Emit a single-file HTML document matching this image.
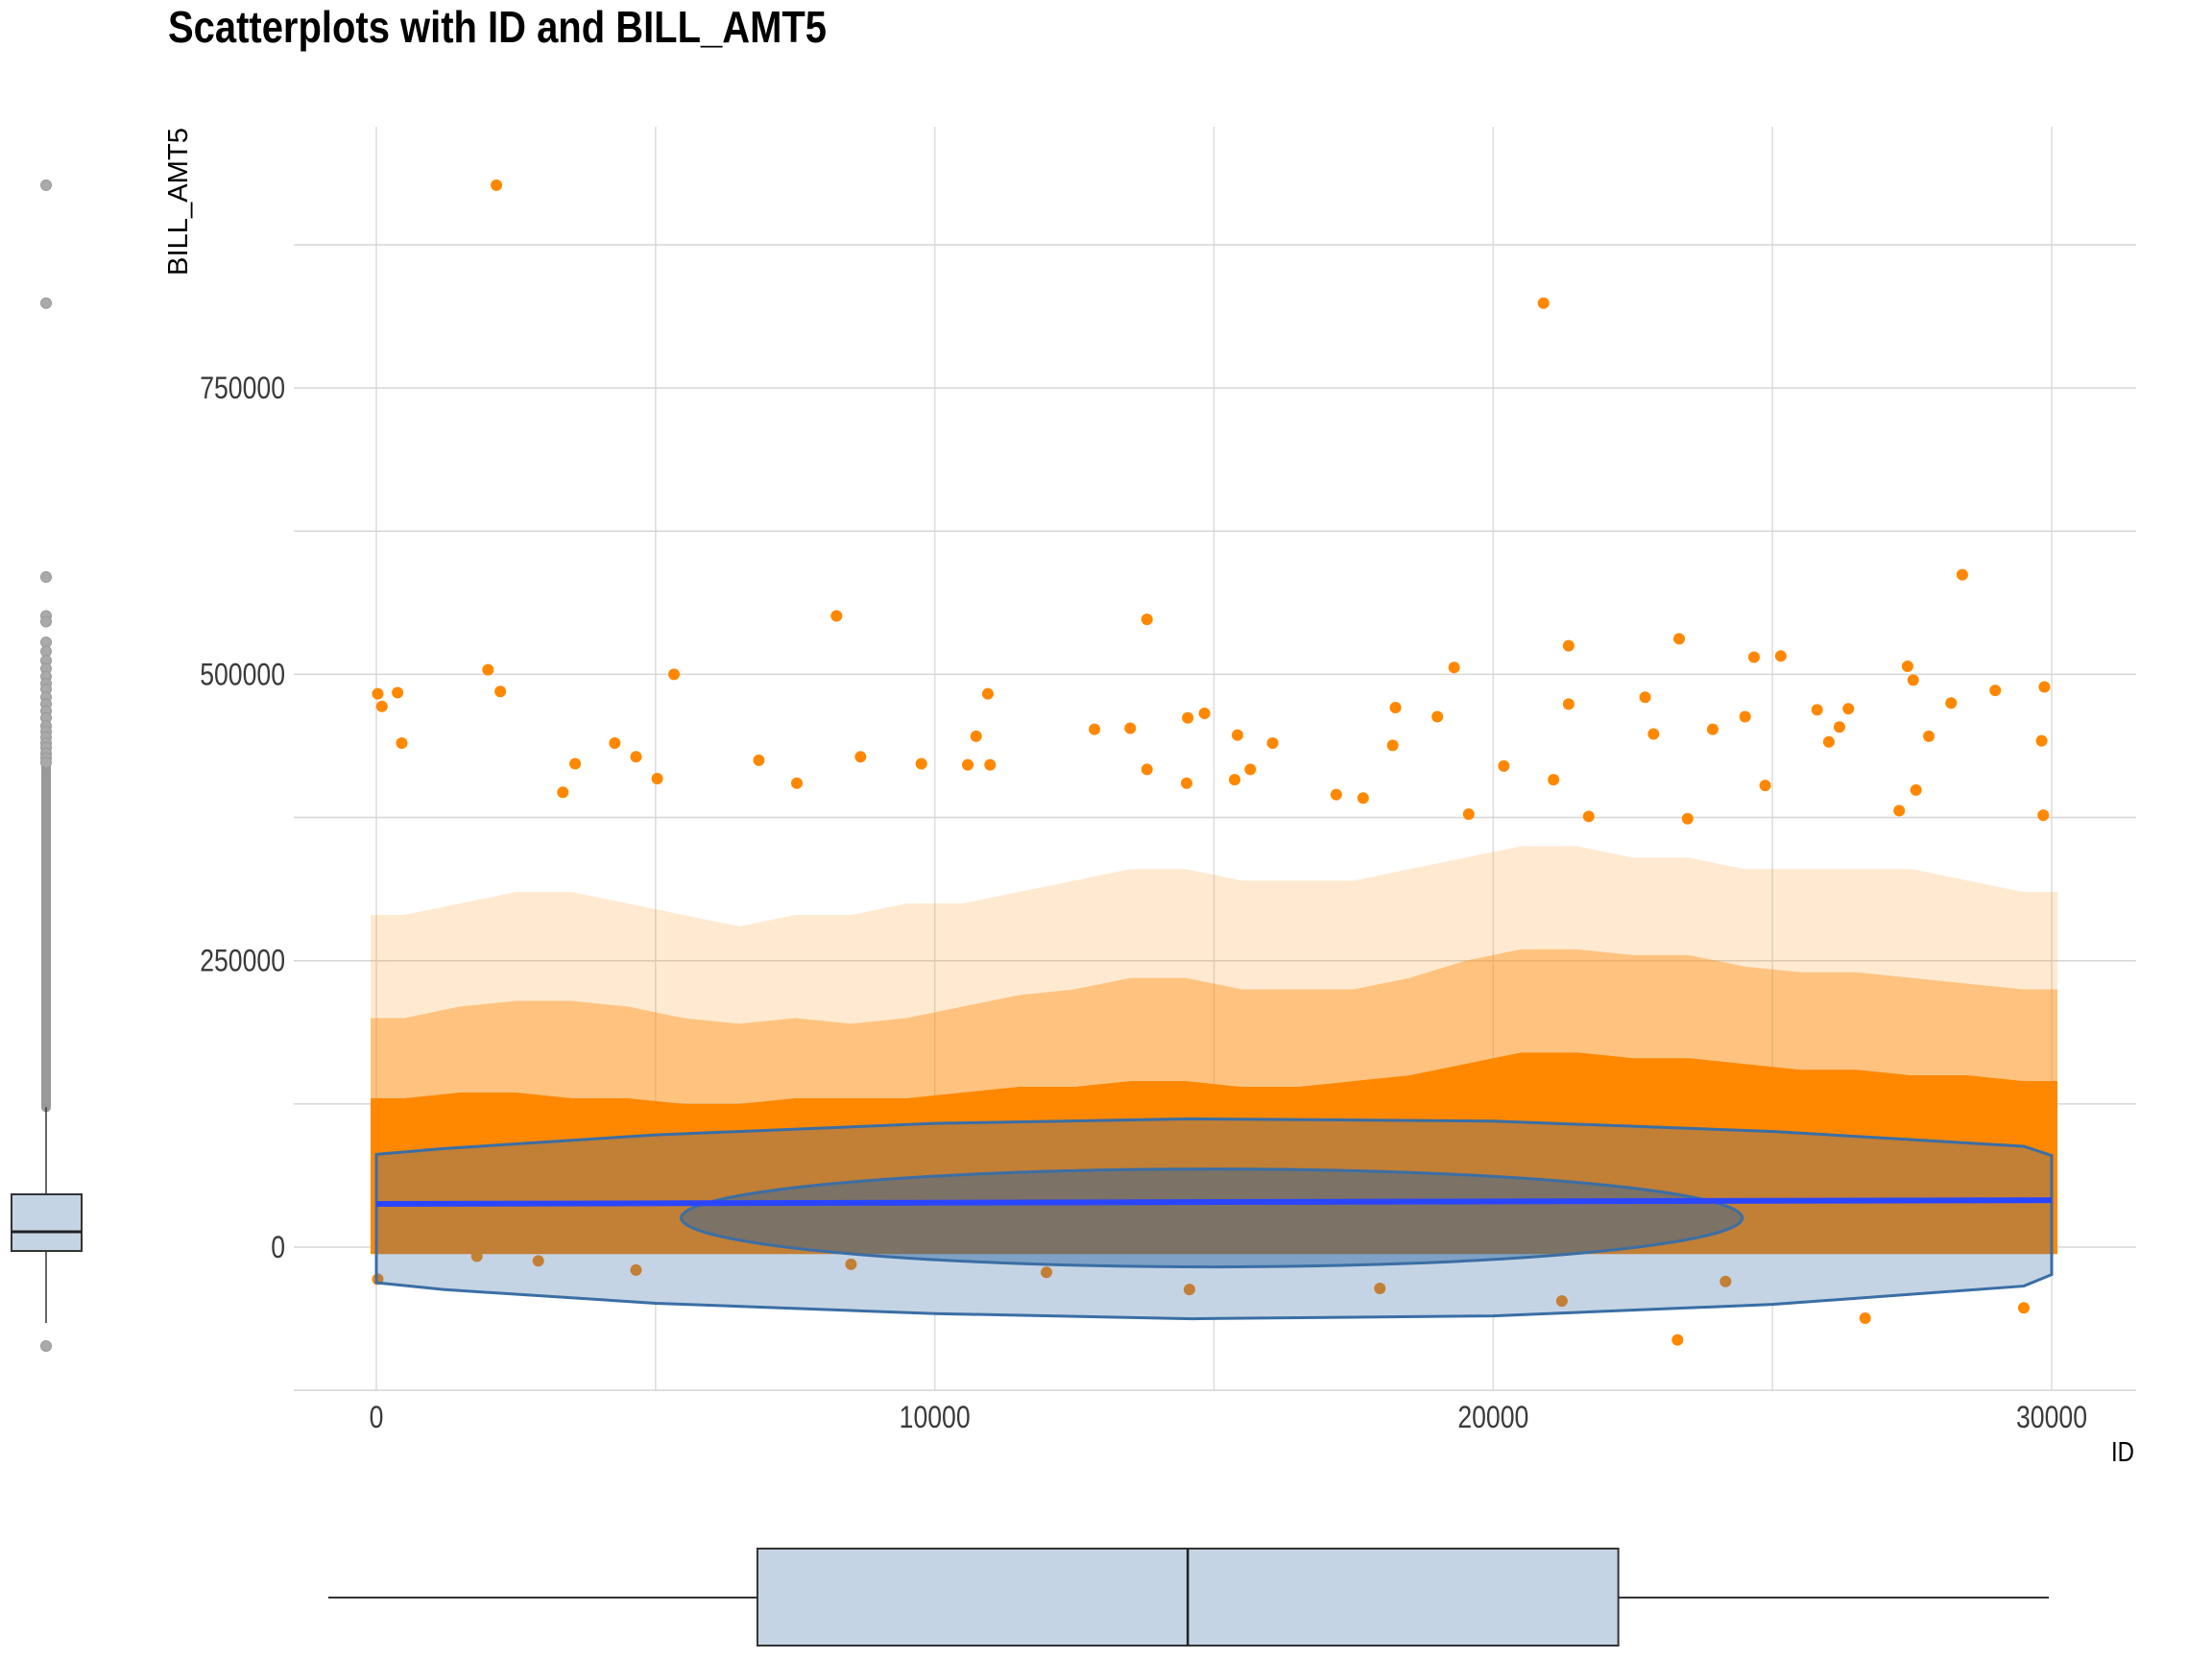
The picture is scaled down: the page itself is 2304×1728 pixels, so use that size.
<!DOCTYPE html>
<html><head><meta charset="utf-8"><style>
html,body{margin:0;padding:0;background:#fff}
svg{display:block}
text{font-family:"Liberation Sans Narrow","Liberation Sans",sans-serif}
</style></head><body>
<svg id="chart" width="2304" height="1728" viewBox="0 0 2304 1728" xmlns="http://www.w3.org/2000/svg">
<text x="175" y="44" font-size="46" font-weight="bold" fill="#000" textLength="686" lengthAdjust="spacingAndGlyphs">Scatterplots with ID and BILL_AMT5</text>
<g id="grid"></g>
<g id="plot"></g>
<g id="axes"></g>
<text transform="translate(195,287) rotate(-90)" font-size="29" fill="#000" textLength="154" lengthAdjust="spacingAndGlyphs" style="font-family:'Liberation Sans',sans-serif">BILL_AMT5</text>
<text x="2223" y="1522" text-anchor="end" font-size="29" fill="#000" textLength="24" lengthAdjust="spacingAndGlyphs" style="font-family:'Liberation Sans',sans-serif">ID</text>
<g id="leftbox"></g>
<g id="bottombox"></g>
</svg>
<script>
// ---- data ----
const xTicks = [0, 10000, 20000, 30000];
const xMinor = [5000, 15000, 25000];
const yTicks = [0, 250000, 500000, 750000];
const yMinor = [-125000, 125000, 375000, 625000, 875000];
const yTickLabels = ["0", "250000", "500000", "750000"];
const xTickLabels = ["0", "10000", "20000", "30000"];
// density bins (1000 IDs each, values in thousands)
const binStarts = [0,1000,2000,3000,4000,5000,6000,7000,8000,9000,10000,11000,12000,13000,14000,15000,16000,17000,18000,19000,20000,21000,22000,23000,24000,25000,26000,27000,28000,29000];
const solidTop = [130,135,135,130,130,125,125,130,130,130,135,140,140,145,145,140,140,145,150,160,170,170,165,165,160,155,155,150,150,145];
const denseTop = [200,210,215,215,210,200,195,200,195,200,210,220,225,235,235,225,225,225,235,250,260,260,255,255,245,240,240,235,230,225];
const sparseTop = [290,300,310,310,300,290,280,290,290,300,300,310,320,330,330,320,320,320,330,340,350,350,340,340,330,330,330,330,320,310];
// outlier points
const ptIds = [25,100,380,455,2150,2000,2220,20900,8240,13800,28400,5330,19300,21350,23330,24670,25150,27420,27520,29870,28990,21350,22720,10950,29820,26360,25800,28200,14830,14530,24510,19000,10740,12860,13500,15420,16050,23930,26200,18250,18200,4270,4650,3560,8670,6850,9760,5030,10590,10990,22870,26010,27800,20190,21080,24870,27570,3340,7530,17190,17670,15370,15650,14510,13800,19560,21710,23480,29850,27270,25,21230,23300,26660,29500,14560,17970,24160,4650,8500,2900,12000,1800];
const ptVals = [483000,472000,484000,440000,927000,504000,485000,824000,551000,548000,587000,500000,506000,525000,531000,515000,516000,507000,495000,489000,486000,474000,480000,483000,442000,470000,469000,475000,466000,462000,463000,463000,446000,452000,453000,447000,440000,452000,454000,471000,438000,440000,428000,422000,428000,425000,422000,409000,421000,421000,448000,441000,446000,420000,408000,403000,399000,397000,405000,395000,392000,408000,417000,405000,417000,378000,376000,374000,377000,381000,-28000,-47000,-81000,-62000,-53000,-37000,-36000,-30000,-20000,-15000,-12000,-22000,-8000];
// hull
const hullIds = [0,1200,5000,10000,14600,20000,25000,29500,30000];
const hullTop = [81000,86000,98000,108000,112000,110000,101000,88000,80000];
const hullBot = [-31000,-37000,-49000,-58000,-62500,-60000,-50000,-34000,-24000];
// ellipse
const ellCenter = [14960, 25500];
const ellHalf = [9500, 42750];
// regression line
const regIds = [0, 30000];
const regVals = [37700, 41000];
// marginal boxplots
const yBox = {q1:-3350, median:13400, q3:46100, lo:-66200, hi:122000};
const yOutliers = [927000,824000,585000,551000,546000,528000,520000,512000,505000,498000,492000,487000,480000,474000,468000,462000,455000,450000,445000,440000,436000,431000,427000,423000,-86300];
const yOutlierDense = [122000, 420000];
const xBox = {q1:6824, median:14530, q3:22240, lo:-860, hi:29950};

// ---- scales ----
const X = v => 392 + (v - 0) * (2137 - 392) / 30000;
const Y = v => 1299 - v * 298.3 / 250000;
const NS = "http://www.w3.org/2000/svg";
function mk(tag, attrs, parent){const e=document.createElementNS(NS,tag);for(const k in attrs)e.setAttribute(k,attrs[k]);parent.appendChild(e);return e;}
const grid=document.getElementById('grid'), plot=document.getElementById('plot'), axes=document.getElementById('axes');
const PL=306, PR=2225, PT=132, PB=1449;

xMinor.concat(xTicks).forEach(t=>{const l=mk('line',{x1:X(t),x2:X(t),y1:PT,y2:PB,stroke:'#dcdcdc','stroke-width':1.5},grid);

});
yMinor.concat(yTicks).forEach(t=>{const l=mk('line',{x1:PL,x2:PR,y1:Y(t),y2:Y(t),stroke:'#d6d6d6','stroke-width':1.5},grid);

});
yTicks.forEach((t,i)=>{const e=mk('text',{x:297,y:Y(t)+11,'text-anchor':'end','font-size':32,fill:'#3a3a3a',textLength:yTickLabels[i].length*14.8,lengthAdjust:'spacingAndGlyphs'},axes);e.textContent=yTickLabels[i];

});
xTicks.forEach((t,i)=>{const e=mk('text',{x:X(t),y:1487,'text-anchor':'middle','font-size':32,fill:'#3a3a3a',textLength:xTickLabels[i].length*14.8,lengthAdjust:'spacingAndGlyphs'},axes);e.textContent=xTickLabels[i];

});

const ORANGE='#ff8800', BROWN='#c27f36';
function bandPath(upper, lowerFn){
  const n=binStarts.length;
  let pts=[];
  pts.push([X(0)-6, Y(upper[0]*1000)]);
  binStarts.forEach((b,i)=>pts.push([X(b+500), Y(upper[i]*1000)]));
  pts.push([X(30000)+6, Y(upper[n-1]*1000)]);
  let low=[];
  low.push([X(30000)+6, lowerFn(n-1)]);
  for(let i=n-1;i>=0;i--) low.push([X(binStarts[i]+500), lowerFn(i)]);
  low.push([X(0)-6, lowerFn(0)]);
  return 'M'+pts.concat(low).map(p=>p[0].toFixed(1)+','+p[1].toFixed(1)).join(' L')+' Z';
}
function drawPoints(g,color){
  const p3=mk('path',{d:bandPath(sparseTop,i=>Y(denseTop[i]*1000)),fill:color,opacity:0.18},g);
  
  
  const p2=mk('path',{d:bandPath(denseTop,i=>Y(solidTop[i]*1000)),fill:color,opacity:0.5},g);
  
  
  const p1=mk('path',{d:bandPath(solidTop,i=>Y(-6000)),fill:color},g);
  
  
  ptIds.forEach((id,i)=>{const c=mk('circle',{cx:X(id),cy:Y(ptVals[i]),r:6,fill:color},g);
    
    });
}
function hullPath(){
  let d='M'+X(hullIds[0])+','+Y(hullTop[0]);
  for(let i=1;i<hullIds.length;i++) d+=' L'+X(hullIds[i])+','+Y(hullTop[i]);
  for(let i=hullIds.length-1;i>=0;i--) d+=' L'+X(hullIds[i])+','+Y(hullBot[i]);
  return d+' Z';
}
const pts1=mk('g',{},plot);


drawPoints(pts1,ORANGE);
const defs=mk('defs',{},plot);
const cp=mk('clipPath',{id:'hullclip'},defs);
mk('path',{d:hullPath()},cp);
const hullFill=mk('path',{d:hullPath(),fill:'#c5d4e4'},plot);


const pts2=mk('g',{'clip-path':'url(#hullclip)'},plot);


drawPoints(pts2,BROWN);
const ell=mk('ellipse',{cx:X(ellCenter[0]),cy:Y(ellCenter[1]),rx:X(ellHalf[0])-X(0),ry:Y(0)-Y(ellHalf[1]),fill:'rgba(40,100,160,0.45)',stroke:'#3a6ea5','stroke-width':3},plot);


const hullStroke=mk('path',{d:hullPath(),fill:'none',stroke:'#3a6ea5','stroke-width':3},plot);


const reg=mk('line',{x1:X(regIds[0]),y1:Y(regVals[0]),x2:X(regIds[1]),y2:Y(regVals[1]),stroke:'#2a45ff','stroke-width':6},plot);



// left boxplot
const lb=document.getElementById('leftbox');
const cx=48;
const dl=mk('line',{x1:cx,x2:cx,y1:Y(yOutlierDense[0]),y2:Y(yOutlierDense[1]),stroke:'#999','stroke-width':10,'stroke-linecap':'round'},lb);


yOutliers.forEach(v=>{const c=mk('circle',{cx:cx,cy:Y(v),r:5.5,fill:'#aaa',stroke:'#999','stroke-width':1},lb);

});
const w1=mk('line',{x1:cx,x2:cx,y1:Y(yBox.hi),y2:Y(yBox.lo),stroke:'#333','stroke-width':1.5},lb);


const yb=mk('rect',{x:12,y:Y(yBox.q3),width:73,height:Y(yBox.q1)-Y(yBox.q3),fill:'#c5d4e4',stroke:'#333','stroke-width':2},lb);


const ym=mk('line',{x1:12,x2:85,y1:Y(yBox.median),y2:Y(yBox.median),stroke:'#222','stroke-width':3},lb);



// bottom boxplot
const bb=document.getElementById('bottombox');
const xw=mk('line',{x1:X(xBox.lo),x2:X(xBox.hi),y1:1664,y2:1664,stroke:'#333','stroke-width':2},bb);


const xb=mk('rect',{x:X(xBox.q1),y:1613,width:X(xBox.q3)-X(xBox.q1),height:101,fill:'#c5d4e4',stroke:'#333','stroke-width':2},bb);


const xm=mk('line',{x1:X(xBox.median),x2:X(xBox.median),y1:1613,y2:1714,stroke:'#222','stroke-width':2.5},bb);


</script>
</body></html>
